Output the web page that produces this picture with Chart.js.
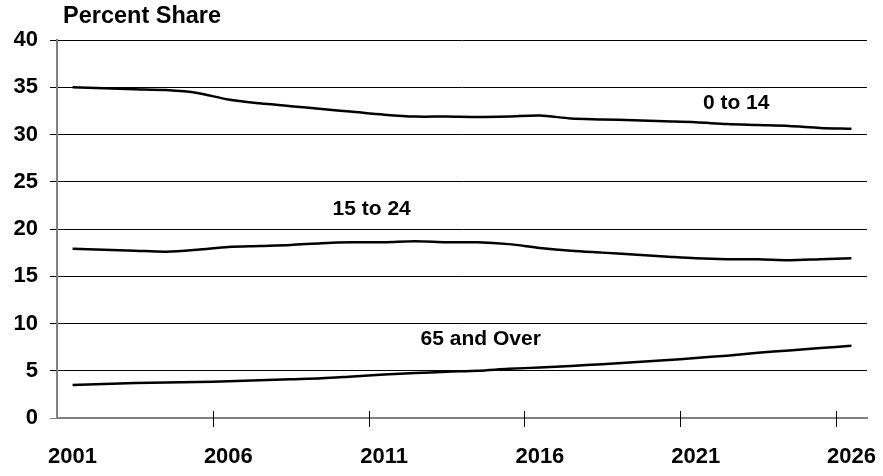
<!DOCTYPE html>
<html>
<head>
<meta charset="utf-8">
<script src="https://cdn.jsdelivr.net/npm/chart.js@4/dist/chart.umd.min.js"></script>
<style>
  html, body { margin: 0; padding: 0; background: #fff; }
  #wrap { width: 883px; height: 476px; }
</style>
</head>
<body>
<div id="wrap"><canvas id="shareChart"></canvas></div>
<script>
// years on the category axis
const years = ['2001','2002','2003','2004','2005','2006','2007','2008','2009','2010',
               '2011','2012','2013','2014','2015','2016','2017','2018','2019','2020',
               '2021','2022','2023','2024','2025','2026'];

// percent share by age group
const age0to14 = [35.0, 34.9, 34.8, 34.7, 34.4, 33.7, 33.3, 33.0, 32.7, 32.4,
                  32.1, 31.9, 31.9, 31.85, 31.9, 32.0, 31.7, 31.6, 31.5, 31.4,
                  31.3, 31.1, 31.0, 30.9, 30.7, 30.6];
const age15to24 = [17.9, 17.8, 17.7, 17.6, 17.8, 18.1, 18.2, 18.3, 18.5, 18.6,
                   18.6, 18.7, 18.6, 18.6, 18.4, 18.0, 17.7, 17.5, 17.3, 17.1,
                   16.9, 16.8, 16.8, 16.7, 16.8, 16.9];
const age65over = [3.5, 3.6, 3.7, 3.75, 3.8, 3.9, 4.0, 4.1, 4.2, 4.4,
                   4.6, 4.75, 4.9, 5.0, 5.2, 5.35, 5.5, 5.7, 5.9, 6.1,
                   6.35, 6.6, 6.9, 7.15, 7.4, 7.65];

// y axis ticks
const yMin = 0;
const yMax = 40;
const yStep = 5;

// in-chart series labels: text, category index, value
const seriesLabels = ['0 to 14', '15 to 24', '65 and Over'];
const labelAtIndex = [21.3, 9.6, 13.1];
const labelAtValue = [33.3, 22.1, 8.3];

const FONT = '"Liberation Sans", Arial, sans-serif';

// draws the y-axis title, series labels and the x tick marks that cross the axis
const decorPlugin = {
    id: 'decor',
    afterDraw(chart) {
        const ctx = chart.ctx;
        const xs = chart.scales.x;
        const ys = chart.scales.y;
        const area = chart.chartArea;
        ctx.save();

        ctx.fillStyle = '#000';
        ctx.font = 'bold 23.5px ' + FONT;
        ctx.textAlign = 'left';
        ctx.textBaseline = 'alphabetic';
        ctx.fillText('Percent Share', area.left + 6, 23);

        ctx.font = 'bold 21px ' + FONT;
        ctx.textAlign = 'center';
        ctx.textBaseline = 'middle';
        seriesLabels.forEach((txt, i) => {
            ctx.fillText(txt, xs.getPixelForValue(labelAtIndex[i]), ys.getPixelForValue(labelAtValue[i]));
        });

        // tick marks every 5 years, on category boundaries
        ctx.strokeStyle = '#000';
        ctx.lineWidth = 1;
        for (let i = 5; i < years.length; i += 5) {
            const px = Math.round(xs.getPixelForValue(i - 0.5)) + 0.5;
            ctx.beginPath();
            ctx.moveTo(px, area.bottom - 7);
            ctx.lineTo(px, area.bottom + 9);
            ctx.stroke();
        }
        ctx.restore();
    }
};

function lineSet(label, data) {
    return {
        label,
        data,
        borderColor: '#000',
        borderWidth: 2.5,
        pointRadius: 0,
        tension: 0.3,
        fill: false
    };
}

new Chart(document.getElementById('shareChart'), {
    type: 'line',
    data: {
        labels: years,
        datasets: [
            lineSet('0 to 14', age0to14),
            lineSet('15 to 24', age15to24),
            lineSet('65 and Over', age65over)
        ]
    },
    options: {
        responsive: true,
        maintainAspectRatio: false,
        animation: false,
        layout: { padding: { top: 40, right: 16, left: 0, bottom: 0 } },
        plugins: {
            legend: { display: false },
            tooltip: { enabled: false },
            title: { display: false }
        },
        scales: {
            x: {
                type: 'category',
                offset: true,
                grid: { display: false },
                border: { display: true, color: '#808080', width: 2 },
                ticks: {
                    autoSkip: false,
                    maxRotation: 0,
                    padding: 18,
                    color: '#000',
                    font: { family: FONT, size: 22, weight: 'bold' },
                    callback: (val, index) => (index % 5 === 0 ? years[index] : '')
                },
                afterFit(scale) {
                    scale.height = 58;
                    scale.paddingLeft = 0;
                    scale.paddingRight = 0;
                }
            },
            y: {
                min: yMin,
                max: yMax,
                ticks: {
                    stepSize: yStep,
                    padding: 12,
                    color: '#000',
                    font: { family: FONT, size: 22, weight: 'bold' }
                },
                grid: {
                    color: c => (c.tick && c.tick.value === 0 ? '#808080' : '#000'),
                    lineWidth: 1,
                    tickLength: 7
                },
                border: { display: true, color: '#808080', width: 2 },
                afterFit(scale) {
                    scale.width = 57;
                    scale.paddingTop = 0;
                    scale.paddingBottom = 0;
                }
            }
        }
    },
    plugins: [decorPlugin]
});
</script>
</body>
</html>
